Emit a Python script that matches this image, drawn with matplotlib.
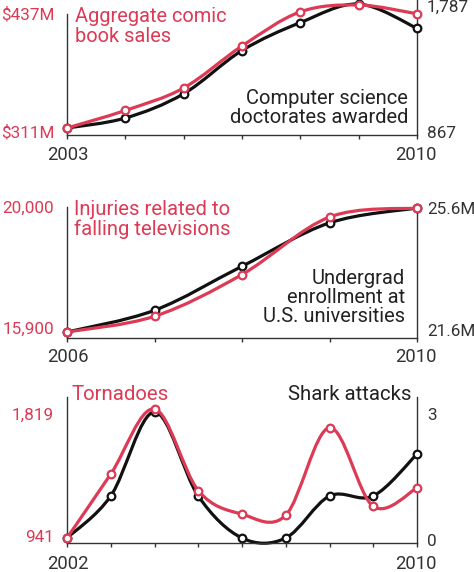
import numpy as np
import matplotlib
matplotlib.use("Agg")
import matplotlib.pyplot as plt
from matplotlib.path import Path
from matplotlib.patches import PathPatch

plt.rcParams['font.family'] = ['Roboto', 'DejaVu Sans']

RED = '#dc3a55'
BLACK = '#111111'
GREY = '#333333'

W, H = 474, 572

# ---- data ----
comic_sales = [311, 329, 352, 395, 430, 437, 428]          # $M
cs_doctorates = [867, 941, 1121, 1442, 1649, 1787, 1607]
comic_years = ["2003", "2010"]

tv_injuries = [15900, 16420, 17800, 19700, 20000]
undergrad = [21.6, 22.3, 23.72, 25.12, 25.6]               # millions
tv_years = ["2006", "2010"]

tornadoes = [941, 1376, 1819, 1264, 1103, 1096, 1692, 1156, 1282]
shark_attacks = [0, 1, 3, 1, 0, 0, 1, 1, 2]
storm_years = ["2002", "2010"]

fig = plt.figure(figsize=(W / 100, H / 100), dpi=100)

X0, X1 = 67, 417


def fx(px):
    return px / W


def fy(py):
    return 1 - py / H


def smooth(ax, y, color, z):
    # catmull-rom curve through the points, drawn as cubic beziers
    x = np.arange(len(y), dtype=float)
    pts = np.column_stack([x, np.asarray(y, dtype=float)])
    p = np.vstack([pts[0], pts, pts[-1]])
    verts = [pts[0]]
    codes = [Path.MOVETO]
    for i in range(1, len(p) - 2):
        c1 = p[i] + (p[i + 1] - p[i - 1]) / 6
        c2 = p[i + 1] - (p[i + 2] - p[i]) / 6
        verts += [c1, c2, p[i + 1]]
        codes += [Path.CURVE4] * 3
    ax.add_patch(PathPatch(Path(verts, codes), fill=False, edgecolor=color,
                           lw=2.3, zorder=z, clip_on=False, capstyle='round'))
    ax.plot(x, y, 'o', ms=5.5, mfc='white', mec=color, mew=1.6,
            zorder=z + 1, clip_on=False)


def lim(vals, p_lo, p_hi, base, top):
    lo, hi = min(vals), max(vals)
    s = (hi - lo) / (p_lo - p_hi)
    return lo - (base - p_lo) * s, hi + (p_hi - top) * s, s


def panel(red, black, years, base, top_l, top_r, red_px, black_px,
          red_labels, black_labels, red_lab_y, black_lab_y, year_y):
    ax = fig.add_axes([fx(X0), fy(base), fx(X1 - X0), (base - top_l) / H])
    ax2 = ax.twinx()
    n = len(red)
    ax.set_xlim(0, n - 1)
    r0, r1, rs = lim(red, red_px[0], red_px[1], base, top_l)
    b0, b1, bs = lim(black, black_px[0], black_px[1], base, top_l)
    ax.set_ylim(r0, r1)
    ax2.set_ylim(b0, b1)
    smooth(ax2, black, BLACK, 3)
    smooth(ax, red, RED, 5)
    ax.set_zorder(ax2.get_zorder() + 1)
    ax.patch.set_visible(False)

    for a in (ax, ax2):
        a.spines['top'].set_visible(False)
        a.set_yticks([])
        a.tick_params(axis='x', length=3, width=1, color=GREY,
                      labelbottom=False)
        a.set_xticks(range(n))
    ax2.spines['left'].set_visible(False)
    ax2.spines['bottom'].set_visible(False)
    ax.spines['right'].set_visible(False)
    for s in ('left', 'bottom'):
        ax.spines[s].set_color(GREY)
        ax.spines[s].set_linewidth(1)
    ax2.spines['right'].set_color(GREY)
    ax2.spines['right'].set_linewidth(1)
    ax2.spines['right'].set_bounds(b0, b1 + (top_l - top_r) * bs)

    for lab, py in zip(red_labels, red_lab_y):
        fig.text(fx(54), fy(py), lab, color=RED, fontsize=12.3,
                 ha='right', va='center')
    for lab, py in zip(black_labels, black_lab_y):
        fig.text(fx(427), fy(py), lab, color='#333333', fontsize=12.3,
                 ha='left', va='center')
    fig.text(fx(X0 + 1), fy(year_y), years[0], color='#333333', fontsize=13.3,
             ha='center', va='center')
    fig.text(fx(X1 - 1), fy(year_y), years[1], color='#333333', fontsize=13.3,
             ha='center', va='center')
    return ax


panel(comic_sales, cs_doctorates, comic_years, 135, 14, 0,
      (128, 5), (128, 4), ["$437M", "$311M"], ["1,787", "867"],
      (15, 133), (7, 133), 155)
fig.text(fx(75), fy(42), "Aggregate comic\nbook sales", color=RED,
         fontsize=14.4, ha='left', va='baseline', linespacing=1.05)
fig.text(fx(408), fy(123), "Computer science\ndoctorates awarded",
         color='#222222', fontsize=14.5, ha='right', va='baseline',
         linespacing=1.0)

panel(tv_injuries, undergrad, tv_years, 338, 207, 208,
      (332, 208), (332, 208), ["20,000", "15,900"], ["25.6M", "21.6M"],
      (208, 329), (210, 332), 357)
fig.text(fx(74), fy(235), "Injuries related to\nfalling televisions",
         color=RED, fontsize=14.6, ha='left', va='baseline',
         linespacing=1.05)
fig.text(fx(405), fy(322), "Undergrad\nenrollment at\nU.S. universities",
         color='#222222', fontsize=14.5, ha='right', va='baseline',
         linespacing=1.0)

panel(tornadoes, shark_attacks, storm_years, 543, 397, 397,
      (538, 409), (538, 412), ["1,819", "941"], ["3", "0"],
      (415, 537), (415, 542), 564)
fig.text(fx(72), fy(400), "Tornadoes", color=RED, fontsize=14.7,
         ha='left', va='baseline')
fig.text(fx(412), fy(400), "Shark attacks", color='#222222', fontsize=14.7,
         ha='right', va='baseline')

fig.savefig("out.png", dpi=100)
